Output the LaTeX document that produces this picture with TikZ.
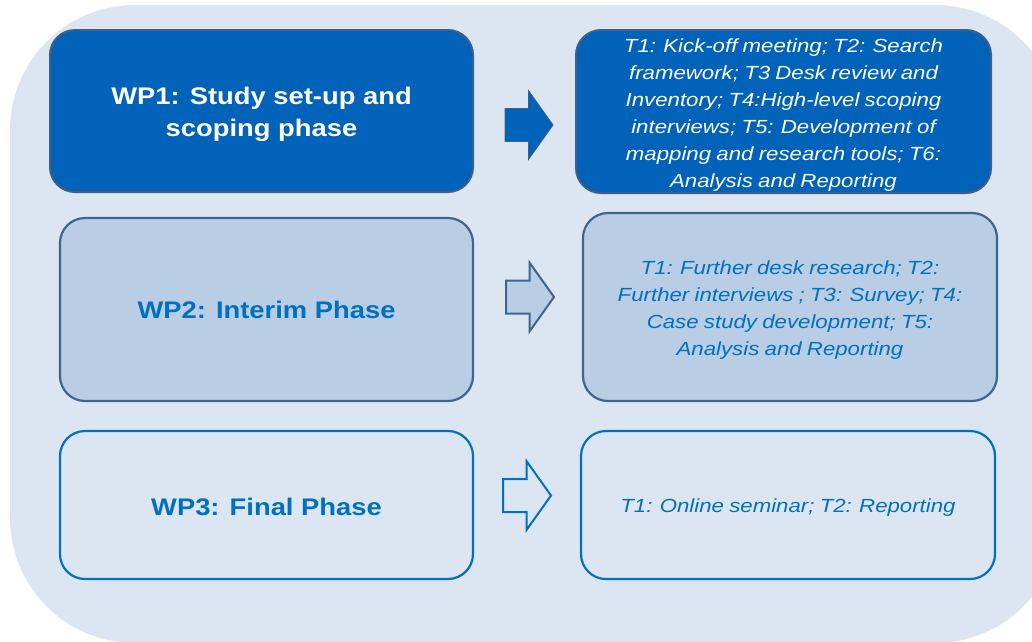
\documentclass[tikz,border=0pt]{standalone}
\usepackage{fontspec}
\newfontfamily\wpfont{Liberation Sans}[FakeStretch=1.14]
\newfontfamily\tkfont{Liberation Sans}[FakeStretch=1.17,WordSpace=0.85]
\definecolor{bgc}{HTML}{DCE6F2}
\definecolor{wpdark}{HTML}{0062B8}
\definecolor{wpdarkline}{HTML}{3E5F8B}
\definecolor{wplight}{HTML}{B9CDE5}
\definecolor{wplightline}{HTML}{41648F}
\definecolor{wpblue}{HTML}{0070C0}
\tikzset{
  box/.style={rectangle, rounded corners=25pt, inner sep=0pt},
  boxone/.style={box, fill=wpdark, draw=wpdarkline, line width=2pt},
  boxtwo/.style={box, fill=wplight, draw=wplightline, line width=2.2pt},
  boxthree/.style={box, draw=wpblue, line width=2.2pt},
  titletext/.style={align=center, inner sep=0pt, font=\wpfont\fontsize{24}{32}\selectfont\bfseries},
  tasktext/.style={align=center, inner sep=0pt, font=\tkfont\fontsize{19}{27}\selectfont\itshape},
  arrowone/.style={fill=wpdark, draw=wpdarkline, line width=0.8pt, line join=miter},
  arrowtwo/.style={fill=wplight, draw=wplightline, line width=2pt, line join=miter},
  arrowthree/.style={fill=bgc, draw=wpblue, line width=2pt, line join=miter},
  pics/blockarrow/.style={code={
    \path[pic actions] (0,-16.5) -- (23.5,-16.5) -- (23.5,-34.5) -- (48,0)
      -- (23.5,34.5) -- (23.5,16.5) -- (0,16.5) -- cycle;
  }}
}
\begin{document}
\begin{tikzpicture}[x=1pt,y=-1pt]
\useasboundingbox (0,0) rectangle (1032,641);
\clip (0,0) rectangle (1032,641);
\fill[bgc, rounded corners=125pt] (10,5) rectangle (1060,643);

% WP1
\node[boxone, minimum width=423pt, minimum height=162pt] (wp1) at (261.5,111) {};
\node[titletext, text=white] (wp1txt) at ([yshift=-3.5pt]wp1.center)
  {WP1: Study set-up and\\scoping phase};
\node[boxone, minimum width=415pt, minimum height=163pt] (t1) at (783.5,111.5) {};
\node[tasktext, text=white] (t1txt) at ([yshift=-3.5pt]t1.center)
  {T1: Kick-off meeting; T2: Search\\framework; T3 Desk review and\\Inventory; T4:High-level scoping\\interviews; T5: Development of\\mapping and research tools; T6:\\Analysis and Reporting};
\pic[arrowone] at (505,125) {blockarrow};

% WP2
\node[boxtwo, minimum width=413pt, minimum height=183pt] (wp2) at (266.5,309.5) {};
\node[titletext, text=wpblue] (wp2txt) at ([yshift=-0.5pt]wp2.center) {WP2: Interim Phase};
\node[boxtwo, minimum width=414pt, minimum height=188pt] (t2) at (790,307) {};
\node[tasktext, text=wpblue] (t2txt) at ([yshift=-3.5pt]t2.center)
  {T1: Further desk research; T2:\\Further interviews ; T3: Survey; T4:\\Case study development; T5:\\Analysis and Reporting};
\pic[arrowtwo] at (506,297) {blockarrow};

% WP3
\node[boxthree, minimum width=413pt, minimum height=148pt] (wp3) at (266.5,505) {};
\node[titletext, text=wpblue] (wp3txt) at ([yshift=-1.5pt]wp3.center) {WP3: Final Phase};
\node[boxthree, minimum width=414pt, minimum height=148pt] (t3) at (788,505) {};
\node[tasktext, text=wpblue] (t3txt) at ([yshift=-2.5pt]t3.center) {T1: Online seminar; T2: Reporting};
\pic[arrowthree] at (503,495.5) {blockarrow};
\end{tikzpicture}
\end{document}
